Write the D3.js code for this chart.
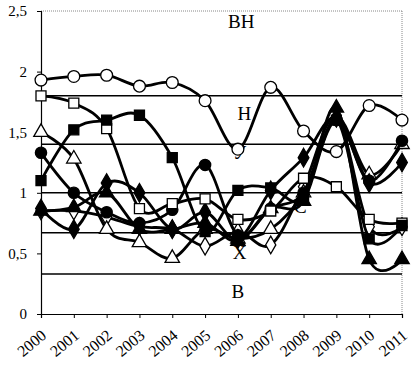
<!DOCTYPE html>
<html><head><meta charset="utf-8">
<script src="https://cdn.jsdelivr.net/npm/d3@7"></script>
<style>body{margin:0;background:#fff}svg{display:block}</style>
</head><body><svg id="c" width="414" height="365"></svg>
<script>
const years = [2000,2001,2002,2003,2004,2005,2006,2007,2008,2009,2010,2011];
const yTicks = [0,0.5,1,1.5,2,2.5];
const thresholds = [1.8,1.4,1.0,0.67,0.33];
const zoneLabels = ["ВН","Н","У","С","Х","В"];
const zoneValues = [2.36,1.6,1.28,0.83,0.45,0.13];
const zoneYears = [2006.1,2006.2,2006.05,2007.9,2006.05,2006];

const openCircle   = [1.93,1.96,1.97,1.88,1.91,1.76,1.36,1.87,1.51,1.34,1.72,1.60];
const openSquare   = [1.80,1.74,1.53,0.87,0.91,0.95,0.78,0.85,1.12,1.05,0.78,0.75];
const filledSquare = [1.10,1.52,1.60,1.64,1.29,0.68,1.02,1.04,0.95,1.60,0.62,0.73];
const openTriangle = [1.50,1.28,0.70,0.59,0.46,0.70,0.62,0.70,1.00,1.62,1.15,1.40];
const filledCircle = [1.33,1.00,0.84,0.75,0.86,1.23,0.65,0.87,1.00,1.60,1.10,1.43];
const filledDiamond= [0.87,0.70,1.08,1.00,0.70,0.84,0.62,1.02,1.29,1.62,1.08,1.25];
const openDiamond  = [0.85,0.85,0.80,0.72,0.70,0.56,0.68,0.57,1.05,1.62,0.72,0.72];
const filledTriangle=[0.85,0.88,1.00,0.70,0.70,0.75,0.60,0.87,0.93,1.70,0.45,0.45];

const series = [
  {v: openDiamond, sym: d3.symbolDiamond, fill: "#fff", size: 90},
  {v: openTriangle, sym: d3.symbolTriangle, fill: "#fff", size: 90},
  {v: filledTriangle, sym: d3.symbolTriangle, fill: "#000", size: 90},
  {v: filledDiamond, sym: d3.symbolDiamond, fill: "#000", size: 100},
  {v: filledCircle, sym: d3.symbolCircle, fill: "#000", size: 100},
  {v: openSquare, sym: d3.symbolSquare, fill: "#fff", size: 100},
  {v: filledSquare, sym: d3.symbolSquare, fill: "#000", size: 100},
  {v: openCircle, sym: d3.symbolCircle, fill: "#fff", size: 110}
];

const svg = d3.select("#c");
const x = d3.scaleLinear().domain([2000,2011]).range([41,402]);
const y = d3.scaleLinear().domain([0,2.5]).range([314,11]);
const serif = "'Liberation Serif','DejaVu Serif',serif";

// frame dotted
svg.append("line").attr("x1",x(2000)).attr("x2",x(2011)).attr("y1",y(2.5)).attr("y2",y(2.5))
  .attr("stroke","#888").attr("stroke-dasharray","1,1");
svg.append("line").attr("x1",x(2011)).attr("x2",x(2011)).attr("y1",y(2.5)).attr("y2",y(0))
  .attr("stroke","#888").attr("stroke-dasharray","1,1");

// thresholds
svg.selectAll("line.th").data(thresholds).enter().append("line").attr("class","th")
  .attr("x1",x(2000)).attr("x2",x(2011)).attr("y1",d=>y(d)).attr("y2",d=>y(d))
  .attr("stroke","#000").attr("stroke-width",1.5);

// zone labels
svg.selectAll("text.z").data(zoneLabels).enter().append("text").attr("class","z")
  .attr("x",(d,i)=>x(zoneYears[i])).attr("y",(d,i)=>y(zoneValues[i]))
  .attr("text-anchor","middle").attr("font-family",serif).attr("font-size",19)
  .text(d=>d);

// axes
const yAxis = d3.axisLeft(y).tickValues(yTicks).tickSize(4)
  .tickFormat(d=>String(d).replace(".",","));
const gy = svg.append("g").attr("transform",`translate(${x(2000)},0)`).call(yAxis);
gy.selectAll("text").attr("font-family",serif).attr("font-size",15).attr("fill","#000").attr("x",-14);
gy.select(".domain").attr("stroke","#000").attr("stroke-width",1.2);

const xAxis = d3.axisBottom(x).tickValues(years).tickSize(4).tickFormat(d3.format("d"));
const gx = svg.append("g").attr("transform",`translate(0,${y(0)})`).call(xAxis);
gx.select(".domain").attr("stroke","#000").attr("stroke-width",1.2);
gx.selectAll("text").attr("font-family",serif).attr("font-size",16).attr("fill","#000")
  .attr("text-anchor","end").attr("dy",0).attr("y",0)
  .attr("transform","translate(6,23) rotate(-40)");

// series
const line = d3.line().x((d,i)=>x(years[i])).y(d=>y(d)).curve(d3.curveCardinal.tension(0));
series.forEach(s=>{
  const g = svg.append("g");
  g.append("path").attr("d",line(s.v)).attr("fill","none").attr("stroke","#000").attr("stroke-width",2.8);
  g.selectAll("path.m").data(s.v).enter().append("path").attr("class","m")
    .attr("d",d3.symbol().type(s.sym).size(s.size))
    .attr("transform",(d,i)=>`translate(${x(years[i])},${y(d)})`)
    .attr("fill",s.fill).attr("stroke","#000").attr("stroke-width",1.3);
});
</script></body></html>
